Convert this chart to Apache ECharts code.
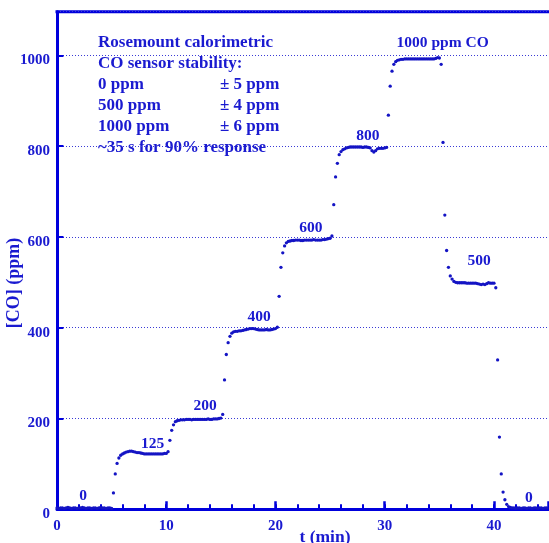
<!DOCTYPE html>
<html>
<head>
<meta charset="utf-8">
<script src="https://cdn.jsdelivr.net/npm/echarts@6/dist/echarts.min.js"></script>
<style>
  html, body { margin: 0; padding: 0; background: #ffffff; }
  #chart { width: 549px; height: 543px; }
</style>
</head>
<body>
<div id="chart"></div>
<script>
// ---- Data ----
// One reading every 10 s (1/6 min), starting at t = 0 min.
const sampleMinutes = 1 / 6;

const zeroStart = [3,2,3,3,2,3,4,3,2,3,3,2,3,3,4,3,2,3,3,2,3,3,2,3,4,3,3,2,3,3,2];
const step125   = [36,78,101,113,119,122,124,126,127,128,128,127,126,125,125,124,123,122,122,122,
                   122,122,122,122,122,122,122,122,123,123,127];
const step200   = [152,174,186,193,195,196,197,197,197,198,198,198,197,198,198,198,198,198,198,198,
                   198,199,198,198,199,199,199,200,201,209];
const step400   = [285,341,367,381,388,391,392,392,393,393,394,395,396,397,398,398,398,397,396,395,
                   395,395,395,396,395,395,396,397,398,401];
const step600   = [469,533,565,580,587,590,591,592,592,593,593,593,592,592,593,593,593,593,593,594,
                   593,593,593,593,594,594,595,596,597,602];
const step800   = [671,732,762,781,788,792,794,796,797,798,798,798,798,798,798,798,797,798,798,797,
                   796,790,787,790,794,795,795,795,796,797];
const step1000  = [868,932,965,980,986,989,990,991,991,992,992,992,992,992,992,992,992,992,992,992,
                   992,992,992,992,992,992,993,995,994,980];
const step500   = [808,648,570,533,514,507,502,500,499,499,499,499,499,498,498,498,498,498,498,497,
                   496,495,496,495,497,499,498,498,498,488];
const zeroEnd   = [329,159,78,38,21,11,6,4,3,3,2,3,3,2,3,3,2,3,3,2,3,3,2,3,3,2,3,3];

const coPpm = [].concat(zeroStart, step125, step200, step400, step600, step800, step1000, step500, zeroEnd);

// Tick labels
const xTickLabels = [0, 10, 20, 30, 40];
const yTickLabels = [0, 200, 400, 600, 800, 1000];

// Step annotations (text, anchored in data units: minutes, ppm)
const stepLabelText = ['0', '125', '200', '400', '600', '800', '1000 ppm CO', '500', '0'];
const stepLabelMin  = [2.4, 8.75, 13.55, 18.5, 23.25, 28.45, 35.3, 38.65, 43.2];
const stepLabelPpm  = [30, 144, 228, 424, 619, 822, 1026, 546, 24];

// Text block, upper left
const noteLeft  = ['Rosemount calorimetric', 'CO sensor stability:', '0 ppm', '500 ppm', '1000 ppm', '~35 s for 90% response'];
const noteRight = ['', '', '\u00b1 5 ppm', '\u00b1 4 ppm', '\u00b1 6 ppm', ''];

const xTitle = 't (min)';
const yTitle = '[CO] (ppm)';

// ---- Chart ----
const TEXT = '#1a1ad0';
const AXIS = '#0000dc';
const DOT  = '#1414c4';
const FONT = '"Liberation Serif", "Times New Roman", serif';

const GRID = { left: 57, right: 0.4, top: 11.7, bottom: 33.7 };
const CH = 543;
const gridHeight = CH - GRID.top - GRID.bottom;

const points = coPpm.map((v, i) => [i * sampleMinutes, v]);
const labelPoints = stepLabelText.map((s, i) => ({ value: [stepLabelMin[i], stepLabelPpm[i]], name: s }));

const graphics = [];
noteLeft.forEach((s, i) => {
  graphics.push({
    type: 'text', x: 98, y: 43 + i * 21, silent: true,
    style: { text: s, fill: TEXT, font: 'bold 17px ' + FONT, textAlign: 'left', verticalAlign: 'middle' }
  });
  if (noteRight[i]) {
    graphics.push({
      type: 'text', x: 220, y: 43 + i * 21, silent: true,
      style: { text: noteRight[i], fill: TEXT, font: 'bold 17px ' + FONT, textAlign: 'left', verticalAlign: 'middle' }
    });
  }
});
graphics.push({
  type: 'text', x: 325, y: 537, silent: true,
  style: { text: xTitle, fill: TEXT, font: 'bold 17.5px ' + FONT, textAlign: 'center', verticalAlign: 'middle' }
});
graphics.push({
  type: 'text', x: 14, y: 283, rotation: Math.PI / 2, silent: true,
  style: { text: yTitle, fill: TEXT, font: 'bold 18px ' + FONT, textAlign: 'center', verticalAlign: 'middle' }
});
// top frame line of the plot box
graphics.push({
  type: 'line', silent: true,
  shape: { x1: GRID.left - 1.5, y1: GRID.top, x2: 549, y2: GRID.top },
  style: { stroke: AXIS, lineWidth: 3 }
});

const chart = echarts.init(document.getElementById('chart'), null, { renderer: 'canvas' });
chart.setOption({
  animation: false,
  backgroundColor: '#ffffff',
  grid: GRID,
  xAxis: [
    {
      type: 'value', position: 'bottom', min: 0, max: 45, interval: 2,
      axisLine: { show: true, onZero: false, lineStyle: { color: AXIS, width: 3 } },
      axisTick: { show: true, inside: true, length: 5, lineStyle: { color: AXIS, width: 2 } },
      axisLabel: {
        margin: 9, color: TEXT, fontFamily: FONT, fontWeight: 'bold', fontSize: 15,
        showMaxLabel: false,
        formatter: v => (xTickLabels.indexOf(v) >= 0 ? String(v) : '')
      },
      splitLine: { show: false }
    },
    {
      // long ticks every 10 min, drawn on the bottom edge
      type: 'value', position: 'top', offset: -gridHeight, min: 0, max: 45, interval: 10,
      axisLine: { show: false },
      axisTick: { show: true, inside: false, length: 8, lineStyle: { color: AXIS, width: 2.5 } },
      axisLabel: { show: false },
      splitLine: { show: false }
    }
  ],
  yAxis: {
    type: 'value', min: 0, max: 1096, interval: 200,
    axisLine: { show: true, onZero: false, lineStyle: { color: AXIS, width: 3 } },
    axisTick: { show: true, inside: true, length: 6.5, lineStyle: { color: AXIS, width: 2 } },
    axisLabel: {
      margin: 7, color: TEXT, fontFamily: FONT, fontWeight: 'bold', fontSize: 15,
      verticalAlign: 'top', lineHeight: 10, showMaxLabel: false,
      formatter: v => (yTickLabels.indexOf(v) >= 0 ? String(v) : '')
    },
    splitLine: { show: true, lineStyle: { color: '#3a3ad6', width: 1, type: [1, 2] } }
  },
  series: [
    {
      type: 'scatter', xAxisIndex: 0, data: points, symbol: 'circle', symbolSize: 3.3,
      itemStyle: { color: DOT, opacity: 1 }, z: 3, clip: false
    },
    {
      type: 'scatter', xAxisIndex: 0, data: labelPoints, symbolSize: 0, silent: true, z: 4,
      itemStyle: { color: TEXT, opacity: 1 },
      label: {
        show: true, position: 'inside', formatter: p => p.name, opacity: 1,
        color: TEXT, textBorderWidth: 0, textBorderColor: 'transparent',
        fontFamily: FONT, fontWeight: 'bold', fontSize: 15.5
      }
    }
  ],
  graphic: graphics
});
</script>
</body>
</html>
